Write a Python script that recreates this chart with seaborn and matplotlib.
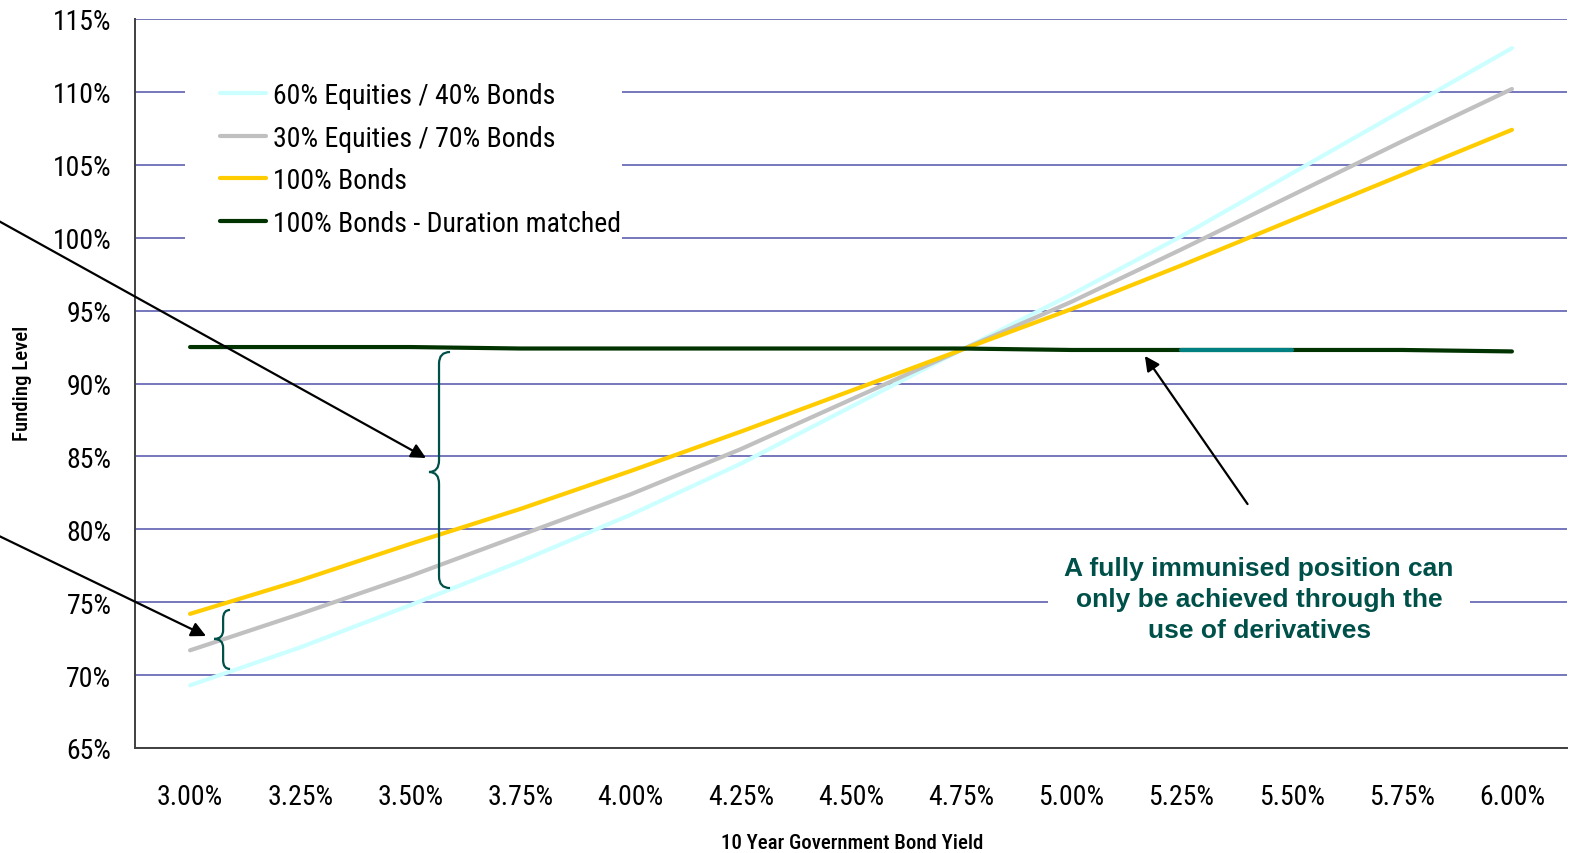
import matplotlib
matplotlib.use("Agg")
import matplotlib.pyplot as plt
from matplotlib.path import Path
from matplotlib.patches import PathPatch, Rectangle
import numpy as np
import pandas as pd
import seaborn as sns

# ---- data -------------------------------------------------------------
yield_labels = ["3.00%", "3.25%", "3.50%", "3.75%", "4.00%", "4.25%", "4.50%",
                "4.75%", "5.00%", "5.25%", "5.50%", "5.75%", "6.00%"]
eq60_bd40 = [69.3, 71.9, 74.8, 77.8, 81.0, 84.5, 88.4, 92.3, 96.1, 100.1, 104.4, 108.7, 113.0]
eq30_bd70 = [71.7, 74.2, 76.8, 79.6, 82.4, 85.5, 88.9, 92.3, 95.6, 99.2, 102.9, 106.6, 110.2]
bonds_100 = [74.2, 76.5, 79.0, 81.4, 84.0, 86.7, 89.5, 92.3, 95.1, 98.1, 101.2, 104.3, 107.4]
bonds_dur = [92.5, 92.5, 92.5, 92.4, 92.4, 92.4, 92.4, 92.4, 92.3, 92.3, 92.3, 92.3, 92.2]
series_names = ["60% Equities / 40% Bonds", "30% Equities / 70% Bonds",
                "100% Bonds", "100% Bonds - Duration matched"]
y_ticks = [65, 70, 75, 80, 85, 90, 95, 100, 105, 110, 115]
note_text = "A fully immunised position can\nonly be achieved through the\nuse of derivatives"

colors = ["#CCFFFF", "#C0C0C0", "#FFCC00", "#003300"]
highlight_color = "#008080"
note_color = "#00504A"
grid_color = "#6B6BB8"

# ---- long-form frame --------------------------------------------------
idx = np.arange(len(yield_labels))
df = pd.concat([
    pd.DataFrame({"pos": idx, "level": vals, "series": name})
    for name, vals in zip(series_names, [eq60_bd40, eq30_bd70, bonds_100, bonds_dur])
], ignore_index=True)

sns.set_theme(style="white")
plt.rcParams["font.family"] = ["Roboto Condensed", "DejaVu Sans"]
plt.rcParams["text.color"] = "black"
plt.rcParams["axes.labelcolor"] = "black"
plt.rcParams["xtick.color"] = "black"
plt.rcParams["ytick.color"] = "black"

fig = plt.figure(figsize=(15.73, 8.54), dpi=100)
ax = fig.add_axes([135 / 1573, 1 - 749 / 854, (1567 - 135) / 1573, (749 - 20) / 854])

sns.lineplot(data=df, x="pos", y="level", hue="series", hue_order=series_names,
             palette=colors, linewidth=3.0, ax=ax, legend=True, sort=False,
             estimator=None, zorder=3)
for ln in ax.lines:
    ln.set_solid_capstyle("round")

# highlighted leg of the duration-matched line (5.25% to 5.50%)
seg = df[(df["series"] == series_names[3]) & (df["pos"].isin([9, 10]))]
sns.lineplot(data=seg, x="pos", y="level", color=highlight_color, linewidth=3.0,
             ax=ax, legend=False, zorder=4)

# ---- axes -------------------------------------------------------------
ax.set_xlim(-0.5, len(yield_labels) - 0.5)
ax.set_ylim(65, 115)
ax.set_xticks(idx)
ax.set_xticklabels(yield_labels, fontsize=20)
ax.set_yticks(y_ticks)
ax.set_yticklabels([f"{v}%" for v in y_ticks], fontsize=20)
ax.tick_params(axis="x", length=0, pad=25)
ax.tick_params(axis="y", length=0, pad=17)
ax.yaxis.grid(True, color=grid_color, linewidth=1.3, zorder=0)
ax.xaxis.grid(False)
ax.set_axisbelow(True)
for side in ["top", "right"]:
    ax.spines[side].set_visible(False)
for side in ["left", "bottom"]:
    ax.spines[side].set_color("#404040")
    ax.spines[side].set_linewidth(1.4)

ax.set_xlabel("10 Year Government Bond Yield", fontsize=15, fontweight="medium")
ax.set_ylabel("Funding Level", fontsize=15, fontweight="medium")
ax.xaxis.set_label_coords(0.5007, -0.116)
ax.yaxis.set_label_coords(-0.072, 0.502)

# ---- legend on a white panel -------------------------------------------
handles, labels = ax.get_legend_handles_labels()
leg = ax.legend(handles, labels, loc="upper left", frameon=False, fontsize=20,
                handlelength=1.65, handletextpad=0.25, labelspacing=0.56,
                bbox_to_anchor=(220 / 1573, 1 - 83 / 854),
                bbox_transform=fig.transFigure, borderaxespad=0, borderpad=0)
for h in leg.get_lines():
    h.set_linewidth(3.0)
leg.set_zorder(6)
panel = Rectangle((185 / 1573, 1 - 242 / 854), (622 - 185) / 1573, (242 - 60) / 854,
                  transform=fig.transFigure, facecolor="white", edgecolor="none",
                  zorder=1)
ax.add_artist(panel)
panel.set_zorder(1)

# ---- annotations ---------------------------------------------------------
def brace(x_spine, x_tip, x_end, y_top, y_mid, y_bot, r):
    verts = [
        (x_end, y_top),
        (x_spine, y_top), (x_spine, y_top - r),
        (x_spine, y_mid + r),
        (x_spine, y_mid), (x_tip, y_mid),
        (x_spine, y_mid), (x_spine, y_mid - r),
        (x_spine, y_bot + r),
        (x_spine, y_bot), (x_end, y_bot),
    ]
    codes = [Path.MOVETO, Path.CURVE3, Path.CURVE3, Path.LINETO,
             Path.CURVE3, Path.CURVE3, Path.CURVE3, Path.CURVE3,
             Path.LINETO, Path.CURVE3, Path.CURVE3]
    ax.add_patch(PathPatch(Path(verts, codes), facecolor="none",
                           edgecolor=note_color, linewidth=1.6, zorder=5,
                           clip_on=False))

brace(2.260, 2.169, 2.360, 92.16, 83.93, 75.97, 0.8)
brace(0.300, 0.218, 0.363, 74.47, 72.48, 70.42, 0.6)

arrow_kw = dict(arrowstyle="-|>", color="black", lw=1.6, mutation_scale=22,
                shrinkA=0, shrinkB=0)
ax.annotate("", xy=(2.142, 84.89), xytext=(-1.75, 101.2),
            arrowprops=arrow_kw, annotation_clip=False, zorder=5)
ax.annotate("", xy=(0.145, 72.68), xytext=(-1.75, 79.6),
            arrowprops=arrow_kw, annotation_clip=False, zorder=5)
ax.annotate("", xy=(8.668, 91.89), xytext=(9.60, 81.73),
            arrowprops=arrow_kw, annotation_clip=False, zorder=5)

ax.text(9.705, 75.2, note_text, ha="center", va="center", fontsize=19,
        fontweight="bold", color=note_color, family=["Liberation Sans", "DejaVu Sans"],
        linespacing=1.37, zorder=5,
        bbox=dict(facecolor="white", edgecolor="none", pad=12))

fig.savefig("out.png", dpi=100)
